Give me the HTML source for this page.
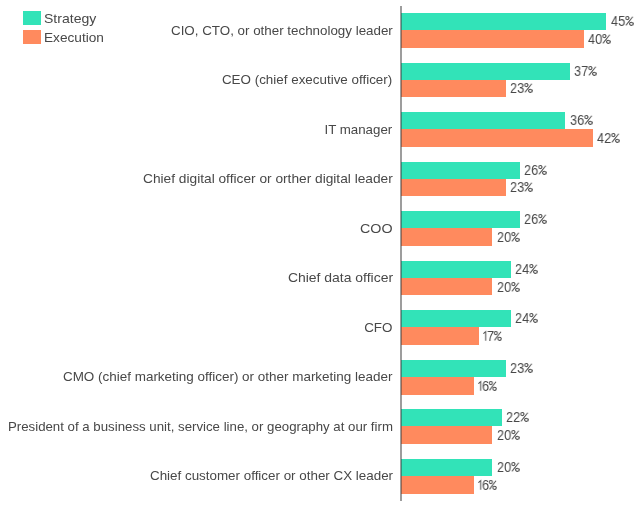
<!DOCTYPE html>
<html><head><meta charset="utf-8"><style>
html,body{margin:0;padding:0;background:#fff;width:641px;height:506px;overflow:hidden;}
body{position:relative;font-family:"Liberation Sans",sans-serif;color:#484848;}
.b{position:absolute;}
.g{background:#32e3b8;}
.o{background:#ff8a5e;}
.l{position:absolute;right:248.39999999999998px;font-size:13px;line-height:16px;white-space:nowrap;will-change:transform;transform-origin:100% 50%;}
.v{position:absolute;font-size:14px;line-height:16px;white-space:nowrap;letter-spacing:0.12px;will-change:transform;transform-origin:0 50%;transform:scaleX(0.9);}
.p{display:inline-block;vertical-align:baseline;margin-left:-0.3px;fill:none;stroke:#484848;stroke-width:1.05;overflow:visible;}
.one{display:inline-block;vertical-align:baseline;fill:none;stroke:#484848;stroke-width:1.1;margin-right:0.0px;overflow:visible;}
.ax{position:absolute;left:400px;top:6px;width:2px;height:495px;background:rgba(60,60,60,0.5);}
</style></head><body>

<div class="b g" style="left:23px;top:11px;width:18px;height:13.7px"></div>
<div class="b o" style="left:23px;top:30.3px;width:18px;height:13.7px"></div>
<div class="l" style="left:44.4px;right:auto;top:10.9px;transform-origin:0 50%;transform:scaleX(1.08)">Strategy</div>
<div class="l" style="left:44.4px;right:auto;top:29.9px;transform-origin:0 50%;transform:scaleX(1.05)">Execution</div>
<div class="b g" style="left:401.2px;top:13.15px;width:205.20px;height:17px"></div>
<div class="b o" style="left:401.2px;top:30.15px;width:182.40px;height:17.7px"></div>
<div class="l" style="top:22.55px;transform:scaleX(1.0279)">CIO, CTO, or other technology leader</div>
<div class="v" style="left:610.70px;top:13.15px">45<svg class="p" width="8.9" height="10" viewBox="0 0 8 10" preserveAspectRatio="none"><circle cx="2.0" cy="2.1" r="1.6"/><circle cx="5.8" cy="7.8" r="1.65"/><path d="M0.6 9.4 L7.2 0.7" stroke-width="0.95"/></svg></div>
<div class="v" style="left:587.90px;top:30.85px">40<svg class="p" width="8.9" height="10" viewBox="0 0 8 10" preserveAspectRatio="none"><circle cx="2.0" cy="2.1" r="1.6"/><circle cx="5.8" cy="7.8" r="1.65"/><path d="M0.6 9.4 L7.2 0.7" stroke-width="0.95"/></svg></div>
<div class="b g" style="left:401.2px;top:62.68px;width:168.72px;height:17px"></div>
<div class="b o" style="left:401.2px;top:79.68px;width:104.88px;height:17.7px"></div>
<div class="l" style="top:72.08px;transform:scaleX(1.0307)">CEO (chief executive officer)</div>
<div class="v" style="left:574.22px;top:62.68px">37<svg class="p" width="8.9" height="10" viewBox="0 0 8 10" preserveAspectRatio="none"><circle cx="2.0" cy="2.1" r="1.6"/><circle cx="5.8" cy="7.8" r="1.65"/><path d="M0.6 9.4 L7.2 0.7" stroke-width="0.95"/></svg></div>
<div class="v" style="left:510.38px;top:80.38px">23<svg class="p" width="8.9" height="10" viewBox="0 0 8 10" preserveAspectRatio="none"><circle cx="2.0" cy="2.1" r="1.6"/><circle cx="5.8" cy="7.8" r="1.65"/><path d="M0.6 9.4 L7.2 0.7" stroke-width="0.95"/></svg></div>
<div class="b g" style="left:401.2px;top:112.21px;width:164.16px;height:17px"></div>
<div class="b o" style="left:401.2px;top:129.21px;width:191.52px;height:17.7px"></div>
<div class="l" style="top:121.61px;transform:scaleX(1.0231)">IT manager</div>
<div class="v" style="left:569.66px;top:112.21px">36<svg class="p" width="8.9" height="10" viewBox="0 0 8 10" preserveAspectRatio="none"><circle cx="2.0" cy="2.1" r="1.6"/><circle cx="5.8" cy="7.8" r="1.65"/><path d="M0.6 9.4 L7.2 0.7" stroke-width="0.95"/></svg></div>
<div class="v" style="left:597.02px;top:129.91px">42<svg class="p" width="8.9" height="10" viewBox="0 0 8 10" preserveAspectRatio="none"><circle cx="2.0" cy="2.1" r="1.6"/><circle cx="5.8" cy="7.8" r="1.65"/><path d="M0.6 9.4 L7.2 0.7" stroke-width="0.95"/></svg></div>
<div class="b g" style="left:401.2px;top:161.74px;width:118.56px;height:17px"></div>
<div class="b o" style="left:401.2px;top:178.74px;width:104.88px;height:17.7px"></div>
<div class="l" style="top:171.14px;transform:scaleX(1.0547)">Chief digital officer or orther digital leader</div>
<div class="v" style="left:524.06px;top:161.74px">26<svg class="p" width="8.9" height="10" viewBox="0 0 8 10" preserveAspectRatio="none"><circle cx="2.0" cy="2.1" r="1.6"/><circle cx="5.8" cy="7.8" r="1.65"/><path d="M0.6 9.4 L7.2 0.7" stroke-width="0.95"/></svg></div>
<div class="v" style="left:510.38px;top:179.44px">23<svg class="p" width="8.9" height="10" viewBox="0 0 8 10" preserveAspectRatio="none"><circle cx="2.0" cy="2.1" r="1.6"/><circle cx="5.8" cy="7.8" r="1.65"/><path d="M0.6 9.4 L7.2 0.7" stroke-width="0.95"/></svg></div>
<div class="b g" style="left:401.2px;top:211.27px;width:118.56px;height:17px"></div>
<div class="b o" style="left:401.2px;top:228.27px;width:91.20px;height:17.7px"></div>
<div class="l" style="top:220.67px;transform:scaleX(1.1)">COO</div>
<div class="v" style="left:524.06px;top:211.27px">26<svg class="p" width="8.9" height="10" viewBox="0 0 8 10" preserveAspectRatio="none"><circle cx="2.0" cy="2.1" r="1.6"/><circle cx="5.8" cy="7.8" r="1.65"/><path d="M0.6 9.4 L7.2 0.7" stroke-width="0.95"/></svg></div>
<div class="v" style="left:496.70px;top:228.97px">20<svg class="p" width="8.9" height="10" viewBox="0 0 8 10" preserveAspectRatio="none"><circle cx="2.0" cy="2.1" r="1.6"/><circle cx="5.8" cy="7.8" r="1.65"/><path d="M0.6 9.4 L7.2 0.7" stroke-width="0.95"/></svg></div>
<div class="b g" style="left:401.2px;top:260.80px;width:109.44px;height:17px"></div>
<div class="b o" style="left:401.2px;top:277.80px;width:91.20px;height:17.7px"></div>
<div class="l" style="top:270.20px;transform:scaleX(1.0722)">Chief data officer</div>
<div class="v" style="left:514.94px;top:260.80px">24<svg class="p" width="8.9" height="10" viewBox="0 0 8 10" preserveAspectRatio="none"><circle cx="2.0" cy="2.1" r="1.6"/><circle cx="5.8" cy="7.8" r="1.65"/><path d="M0.6 9.4 L7.2 0.7" stroke-width="0.95"/></svg></div>
<div class="v" style="left:496.70px;top:278.50px">20<svg class="p" width="8.9" height="10" viewBox="0 0 8 10" preserveAspectRatio="none"><circle cx="2.0" cy="2.1" r="1.6"/><circle cx="5.8" cy="7.8" r="1.65"/><path d="M0.6 9.4 L7.2 0.7" stroke-width="0.95"/></svg></div>
<div class="b g" style="left:401.2px;top:310.33px;width:109.44px;height:17px"></div>
<div class="b o" style="left:401.2px;top:327.33px;width:77.52px;height:17.7px"></div>
<div class="l" style="top:319.73px;transform:scaleX(1.0308)">CFO</div>
<div class="v" style="left:514.94px;top:310.33px">24<svg class="p" width="8.9" height="10" viewBox="0 0 8 10" preserveAspectRatio="none"><circle cx="2.0" cy="2.1" r="1.6"/><circle cx="5.8" cy="7.8" r="1.65"/><path d="M0.6 9.4 L7.2 0.7" stroke-width="0.95"/></svg></div>
<div class="v" style="left:483.02px;top:328.03px"><svg class="one" width="4.6" height="10" viewBox="0 0 4.6 10"><path d="M0.4 2.6 L2.9 0.6 L2.9 9.7"/></svg>7<svg class="p" width="8.9" height="10" viewBox="0 0 8 10" preserveAspectRatio="none"><circle cx="2.0" cy="2.1" r="1.6"/><circle cx="5.8" cy="7.8" r="1.65"/><path d="M0.6 9.4 L7.2 0.7" stroke-width="0.95"/></svg></div>
<div class="b g" style="left:401.2px;top:359.86px;width:104.88px;height:17px"></div>
<div class="b o" style="left:401.2px;top:376.86px;width:72.96px;height:17.7px"></div>
<div class="l" style="top:369.26px;transform:scaleX(1.0347)">CMO (chief marketing officer) or other marketing leader</div>
<div class="v" style="left:510.38px;top:359.86px">23<svg class="p" width="8.9" height="10" viewBox="0 0 8 10" preserveAspectRatio="none"><circle cx="2.0" cy="2.1" r="1.6"/><circle cx="5.8" cy="7.8" r="1.65"/><path d="M0.6 9.4 L7.2 0.7" stroke-width="0.95"/></svg></div>
<div class="v" style="left:478.46px;top:377.56px"><svg class="one" width="4.6" height="10" viewBox="0 0 4.6 10"><path d="M0.4 2.6 L2.9 0.6 L2.9 9.7"/></svg>6<svg class="p" width="8.9" height="10" viewBox="0 0 8 10" preserveAspectRatio="none"><circle cx="2.0" cy="2.1" r="1.6"/><circle cx="5.8" cy="7.8" r="1.65"/><path d="M0.6 9.4 L7.2 0.7" stroke-width="0.95"/></svg></div>
<div class="b g" style="left:401.2px;top:409.39px;width:100.32px;height:17px"></div>
<div class="b o" style="left:401.2px;top:426.39px;width:91.20px;height:17.7px"></div>
<div class="l" style="top:418.79px;transform:scaleX(1.0186)">President of a business unit, service line, or geography at our firm</div>
<div class="v" style="left:505.82px;top:409.39px">22<svg class="p" width="8.9" height="10" viewBox="0 0 8 10" preserveAspectRatio="none"><circle cx="2.0" cy="2.1" r="1.6"/><circle cx="5.8" cy="7.8" r="1.65"/><path d="M0.6 9.4 L7.2 0.7" stroke-width="0.95"/></svg></div>
<div class="v" style="left:496.70px;top:427.09px">20<svg class="p" width="8.9" height="10" viewBox="0 0 8 10" preserveAspectRatio="none"><circle cx="2.0" cy="2.1" r="1.6"/><circle cx="5.8" cy="7.8" r="1.65"/><path d="M0.6 9.4 L7.2 0.7" stroke-width="0.95"/></svg></div>
<div class="b g" style="left:401.2px;top:458.92px;width:91.20px;height:17px"></div>
<div class="b o" style="left:401.2px;top:475.92px;width:72.96px;height:17.7px"></div>
<div class="l" style="top:468.32px;transform:scaleX(1.0298)">Chief customer officer or other CX leader</div>
<div class="v" style="left:496.70px;top:458.92px">20<svg class="p" width="8.9" height="10" viewBox="0 0 8 10" preserveAspectRatio="none"><circle cx="2.0" cy="2.1" r="1.6"/><circle cx="5.8" cy="7.8" r="1.65"/><path d="M0.6 9.4 L7.2 0.7" stroke-width="0.95"/></svg></div>
<div class="v" style="left:478.46px;top:476.62px"><svg class="one" width="4.6" height="10" viewBox="0 0 4.6 10"><path d="M0.4 2.6 L2.9 0.6 L2.9 9.7"/></svg>6<svg class="p" width="8.9" height="10" viewBox="0 0 8 10" preserveAspectRatio="none"><circle cx="2.0" cy="2.1" r="1.6"/><circle cx="5.8" cy="7.8" r="1.65"/><path d="M0.6 9.4 L7.2 0.7" stroke-width="0.95"/></svg></div>
<div class="ax"></div>
</body></html>
